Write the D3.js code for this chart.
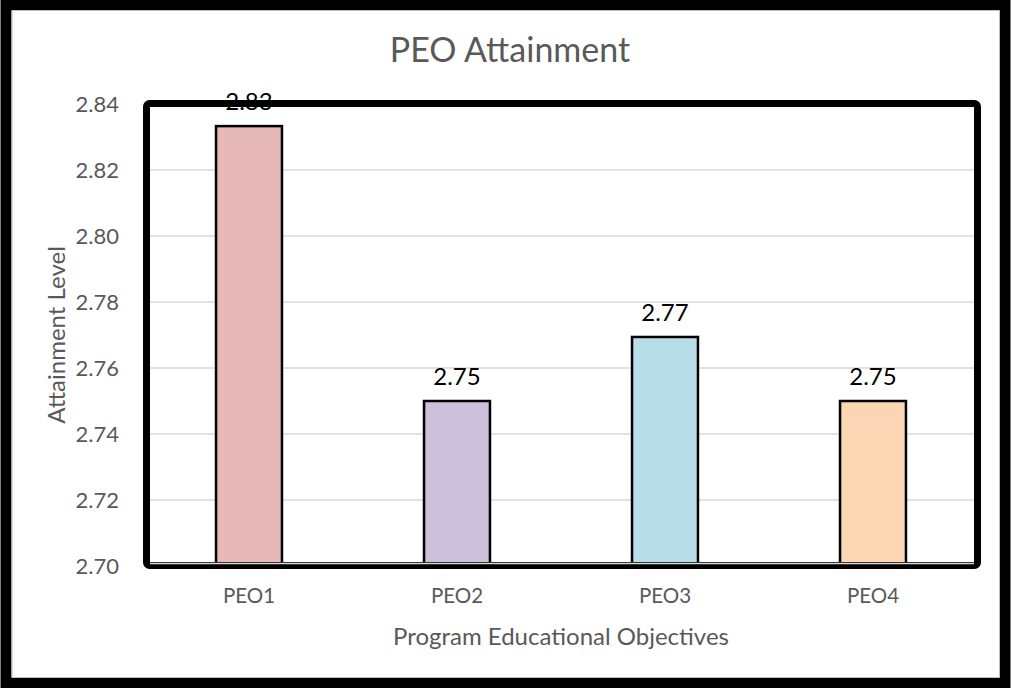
<!DOCTYPE html>
<html>
<head>
<meta charset="utf-8">
<script src="https://cdn.jsdelivr.net/npm/d3@7"></script>
<style>
  body { margin: 0; background: #fff; }
  svg { display: block; font-family: Lato, "Open Sans", sans-serif; }
</style>
</head>
<body>
<div id="chart"></div>
<script>
const categories = ["PEO1", "PEO2", "PEO3", "PEO4"]
const values = [2.8333, 2.75, 2.7694, 2.75]
const valueLabels = ["2.83", "2.75", "2.77", "2.75"]
const barColors = ["#e6b8b7", "#ccc0da", "#b7dee8", "#fcd5b4"]
const yTicks = [2.70, 2.72, 2.74, 2.76, 2.78, 2.80, 2.82, 2.84]

const width = 1011
const height = 688
const plot = {left: 145, right: 977, top: 104, bottom: 566}

const svg = d3.select("#chart").append("svg")
    .attr("width", width)
    .attr("height", height)

// outer chart border
svg.append("rect")
    .attr("x", 6).attr("y", 5)
    .attr("width", width - 12).attr("height", height - 10)
    .attr("fill", "#fff")
    .attr("stroke", "#000")
    .attr("stroke-width", 11)
svg.append("rect")
    .attr("x", 12).attr("y", 10.5)
    .attr("width", width - 23.5).attr("height", height - 21)
    .attr("fill", "none")
    .attr("stroke", "#bfbfbf")
    .attr("stroke-width", 1)

const x = d3.scaleBand()
    .domain(categories)
    .range([plot.left, plot.right])
    .paddingInner(0.683)
    .paddingOuter(0.3415)

const y = d3.scaleLinear()
    .domain([2.70, 2.84])
    .range([plot.bottom, plot.top])

// gridlines
svg.append("g")
    .attr("stroke", "#d9d9d9")
    .attr("stroke-width", 1.5)
  .selectAll("line")
  .data(yTicks)
  .join("line")
    .attr("x1", plot.left)
    .attr("x2", plot.right)
    .attr("y1", d => y(d))
    .attr("y2", d => y(d))

// y axis labels
const yAxis = svg.append("g")
    .attr("transform", `translate(${plot.left - 23},0)`)
    .call(d3.axisLeft(y).tickValues(yTicks).tickFormat(d3.format(".2f")).tickSize(0))
yAxis.select(".domain").remove()
yAxis.selectAll("text")
    .attr("font-size", 22)
    .attr("fill", "#595959")
    .attr("font-family", "Lato, 'Open Sans', sans-serif")

// x axis labels
const xAxis = svg.append("g")
    .attr("transform", `translate(0,${plot.bottom + 19})`)
    .call(d3.axisBottom(x).tickSize(0))
xAxis.select(".domain").remove()
xAxis.selectAll("text")
    .attr("font-size", 20.5)
    .attr("fill", "#595959")
    .attr("font-family", "Lato, 'Open Sans', sans-serif")

// bars
svg.append("g")
  .selectAll("rect")
  .data(values)
  .join("rect")
    .attr("x", (d, i) => x(categories[i]))
    .attr("y", d => y(d))
    .attr("width", x.bandwidth())
    .attr("height", d => y(2.70) - y(d))
    .attr("fill", (d, i) => barColors[i])
    .attr("stroke", "#000")
    .attr("stroke-width", 2.5)

// value labels
svg.append("g")
  .selectAll("text")
  .data(values)
  .join("text")
    .attr("x", (d, i) => x(categories[i]) + x.bandwidth() / 2)
    .attr("y", d => y(d) - 16)
    .attr("text-anchor", "middle")
    .attr("font-size", 24)
    .attr("fill", "#000")
    .text((d, i) => valueLabels[i])

// thick plot frame (drawn over the labels, like the original)
svg.append("rect")
    .attr("x", 146.5).attr("y", 103.5)
    .attr("width", 831).attr("height", 462)
    .attr("rx", 3)
    .attr("fill", "none")
    .attr("stroke", "#000")
    .attr("stroke-width", 7)
svg.append("line")
    .attr("x1", 150).attr("x2", 974)
    .attr("y1", 563.5).attr("y2", 563.5)
    .attr("stroke", "#d9d9d9")
    .attr("stroke-width", 1.5)

// titles
svg.append("text")
    .attr("x", 510).attr("y", 62)
    .attr("text-anchor", "middle")
    .attr("font-size", 34)
    .attr("fill", "#595959")
    .text("PEO Attainment")

svg.append("text")
    .attr("x", (plot.left + plot.right) / 2).attr("y", 645)
    .attr("text-anchor", "middle")
    .attr("font-size", 24)
    .attr("fill", "#595959")
    .text("Program Educational Objectives")

svg.append("text")
    .attr("transform", `translate(65,${(plot.top + plot.bottom) / 2}) rotate(-90)`)
    .attr("text-anchor", "middle")
    .attr("font-size", 24)
    .attr("fill", "#595959")
    .text("Attainment Level")
</script>
</body>
</html>
